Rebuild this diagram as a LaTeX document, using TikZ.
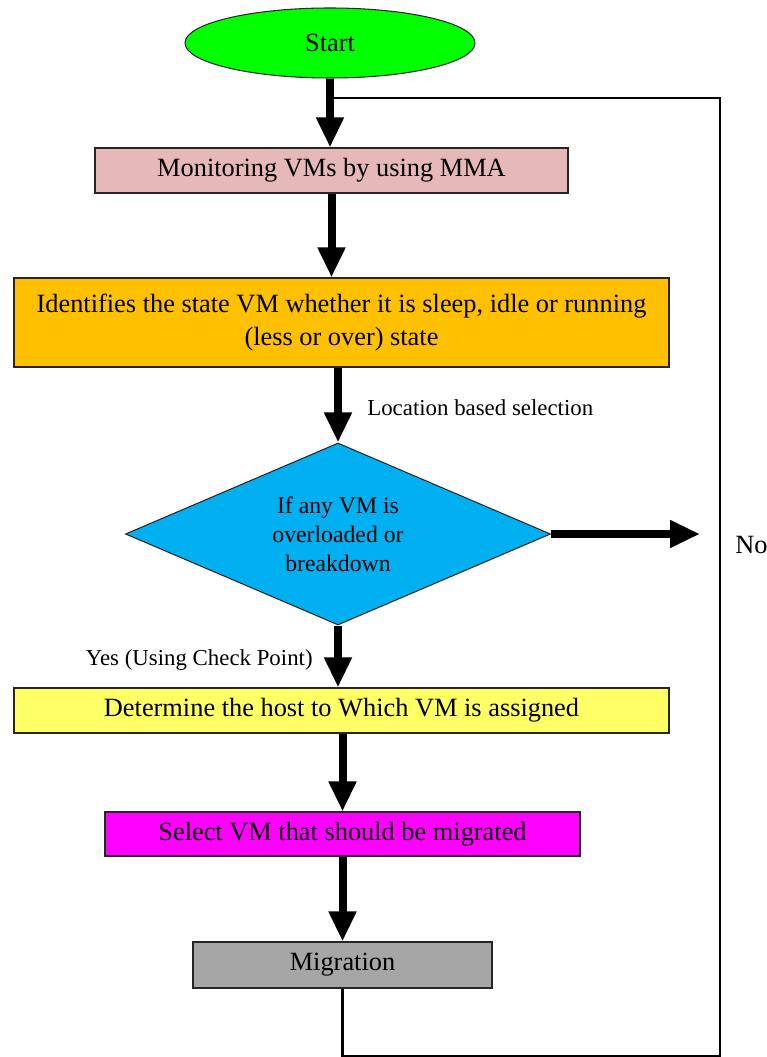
\documentclass[tikz,border=0pt]{standalone}
\usepackage{fontspec}
\setmainfont{Liberation Serif}
\usepackage{xcolor}
\definecolor{vmgreen}{RGB}{0,255,0}
\definecolor{vmpink}{RGB}{230,184,183}
\definecolor{vmorange}{RGB}{255,192,0}
\definecolor{vmblue}{RGB}{0,176,240}
\definecolor{vmyellow}{RGB}{255,255,102}
\definecolor{vmmagenta}{RGB}{255,0,255}
\definecolor{vmgray}{RGB}{166,166,166}
\usetikzlibrary{arrows.meta,shapes.geometric}

\begin{document}
\begin{tikzpicture}[
  procbox/.style={draw=black!85,line width=0.6pt,font=\fontsize{15}{19}\selectfont,align=center,inner sep=0pt},
  flow/.style={line width=0.16cm,-{Triangle[width=0.52cm,length=0.6cm]}},
  loopline/.style={line width=1.4pt},
  lbl/.style={font=\fontsize{13}{16}\selectfont,inner sep=0pt}]
  \useasboundingbox (0,0) rectangle (15.32,-21.14);
  % Start
  \node[procbox,ellipse,fill=vmgreen,minimum width=5.8cm,minimum height=1.4cm] (start) at (6.6,-0.86) {Start};
  % Steps
  \node[procbox,fill=vmpink,minimum width=9.46cm,minimum height=0.9cm] (mon) at (6.63,-3.41) {Monitoring VMs by using MMA};
  \node[procbox,fill=vmorange,minimum width=13.1cm,minimum height=1.78cm] (ident) at (6.83,-6.45) {Identifies the state VM whether it is sleep, idle or running\\(less or over) state};
  \node[procbox,diamond,aspect=2.33,fill=vmblue,minimum width=8.5cm,minimum height=3.64cm,font=\fontsize{13.5}{16.5}\selectfont] (check) at (6.76,-10.68) {If any VM is\\overloaded or\\breakdown};
  \node[procbox,fill=vmyellow,minimum width=13.1cm,minimum height=0.9cm] (host) at (6.83,-14.21) {Determine the host to Which VM is assigned};
  \node[procbox,fill=vmmagenta,minimum width=9.5cm,minimum height=0.88cm] (select) at (6.85,-16.68) {Select VM that should be migrated};
  \node[procbox,fill=vmgray,minimum width=5.98cm,minimum height=0.92cm] (mig) at (6.85,-19.3) {Migration};
  % Arrows
  \draw[flow] (start) -- (start |- mon.north);
  \draw[flow] (mon) -- (mon.south |- ident.north);
  \draw[flow] (ident.south -| check) -- (check.north);
  \draw[flow] (check) -- (check |- host.north);
  \draw[flow] (host.south -| select) -- (select.north);
  \draw[flow] (select) -- (select |- mig.north);
  % No branch
  \coordinate (noend) at (14.0,-10.68);
  \draw[flow] (check.east) -- (noend);
  \node[lbl,anchor=west,font=\fontsize{15}{19}\selectfont] (no) at (14.7,-10.9) {No};
  % Labels
  \node[lbl,anchor=west] (loc) at (7.34,-8.16) {Location based selection};
  \node[lbl,anchor=east] (yes) at (6.26,-13.2) {Yes (Using Check Point)};
  % Loop back
  \coordinate (loopbr) at (14.4,-21.13);
  \coordinate (looptr) at (14.4,-1.96);
  \draw[loopline] (mig.south) -- (mig.south |- loopbr) -- (loopbr) -- (looptr) -- (start.south |- looptr);
\end{tikzpicture}
\end{document}
